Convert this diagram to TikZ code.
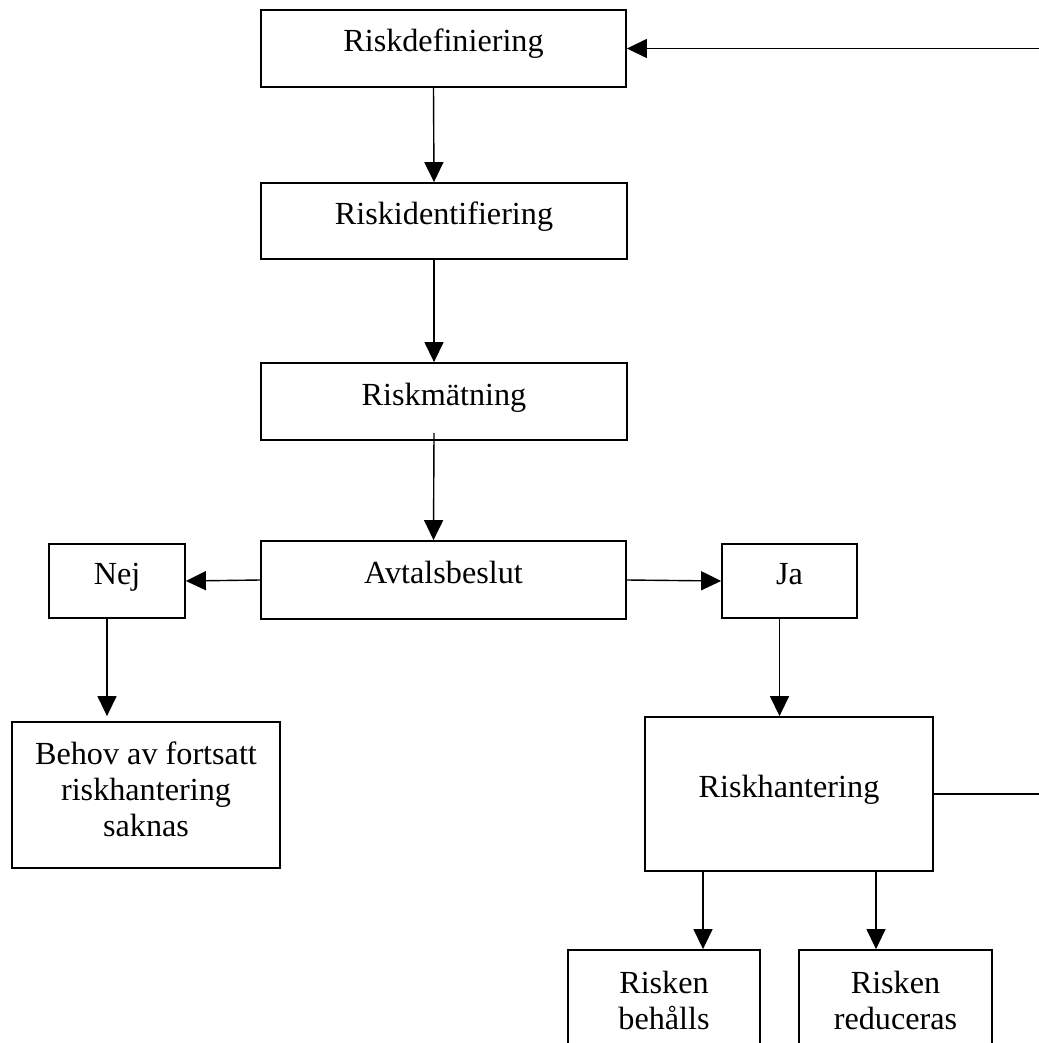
\documentclass[tikz,border=0pt]{standalone}
\usepackage{fontspec}
\setmainfont{Liberation Serif}
\usetikzlibrary{arrows.meta,calc}
\begin{document}
\begin{tikzpicture}[x=1pt,y=-1pt,
  box/.style={draw, line width=1.8pt, inner sep=0pt, align=center,
    font=\fontsize{32.2pt}{36pt}\selectfont},
  single/.style={text height=22pt, text depth=15pt},
  conn/.style={line width=1.4pt, -{Triangle[length=20pt,width=19pt]}}]
\useasboundingbox (0,0) rectangle (1038,1043);

% process chain
\node[box,single,minimum width=365pt,minimum height=77pt] (def) at (443.5,48.5) {Riskdefiniering};
\node[box,single,minimum width=366pt,minimum height=76pt] (ident) at (444,221) {Riskidentifiering};
\node[box,single,minimum width=366pt,minimum height=77pt] (mat) at (444,401.5) {Riskmätning};
\node[box,single,minimum width=365pt,minimum height=78pt] (avtal) at (443.5,580) {Avtalsbeslut};

% decision outcomes
\node[box,single,minimum width=136pt,minimum height=74pt] (nej) at (117,581) {Nej};
\node[box,single,minimum width=135pt,minimum height=74pt] (ja) at (789.5,581) {Ja};
\node[box,minimum width=268pt,minimum height=146pt] (behov) at (146,795)
  {Behov av fortsatt\\riskhantering\\saknas\rule[-12pt]{0pt}{0pt}};
\node[box,single,minimum width=288pt,minimum height=154pt] (rh) at (789,794) {Riskhantering};
\node[box,minimum width=192pt,minimum height=100pt] (beh) at (664,1000) {Risken\\behålls};
\node[box,minimum width=193pt,minimum height=100pt] (red) at (895.5,1000) {Risken\\reduceras};

% connectors
\draw[conn] ([xshift=-10pt]def.south) -- ([xshift=-10pt]ident.north);
\draw[conn] ([xshift=-10pt]ident.south) -- ([xshift=-10pt]mat.north);
\draw[conn] ([xshift=-10pt,yshift=8pt]mat.south) -- ([xshift=-10pt]avtal.north);
\draw[conn] (avtal.west) -- (nej.east);
\draw[conn] (avtal.east) -- (ja.west);
\draw[conn,shorten >=5pt] ([xshift=-10pt]nej.south) -- ([xshift=-10pt]nej.south |- behov.north);
\draw[conn] ([xshift=-10pt]ja.south) -- ([xshift=-10pt]ja.south |- rh.north);
\draw[conn] ([xshift=39pt]beh.north |- rh.south) -- ([xshift=39pt]beh.north);
\draw[conn] ([xshift=-19.5pt]red.north |- rh.south) -- ([xshift=-19.5pt]red.north);

% feedback loop back to the start
\coordinate (loop) at (1090,794);
\draw[conn] (rh.east) -- (loop) |- (def.east);
\end{tikzpicture}
\end{document}
